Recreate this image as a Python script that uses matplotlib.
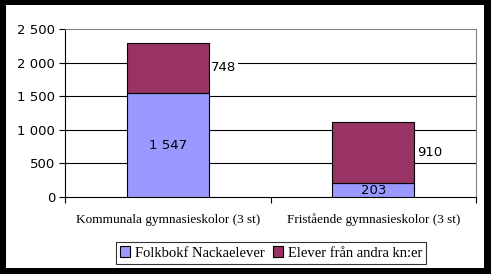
import matplotlib.pyplot as plt
from matplotlib.patches import Rectangle

categories = ["Kommunala gymnasieskolor (3 st)", "Fristående gymnasieskolor (3 st)"]
folkbokf = [1547, 203]
andra = [748, 910]
labels_folk = ["1 547", "203"]
labels_andra = ["748", "910"]
series_names = ["Folkbokf Nackaelever", "Elever från andra kn:er"]

blue = "#9999FF"
maroon = "#993366"

fig = plt.figure(figsize=(4.91, 2.74), dpi=100)
fig.patch.set_facecolor("black")
fig.add_artist(Rectangle((6 / 491, 6 / 274), 478 / 491, 263 / 274,
                         transform=fig.transFigure, facecolor="white",
                         edgecolor="none", zorder=0))

ax = fig.add_axes([65 / 491, 77 / 274, 411 / 491, 168 / 274])
ax.set_facecolor("white")

x = list(range(len(categories)))
width = 0.40
b1 = ax.bar(x, folkbokf, width, color=blue, edgecolor="black", linewidth=0.8,
            label=series_names[0], zorder=3)
b2 = ax.bar(x, andra, width, bottom=folkbokf, color=maroon, edgecolor="black",
            linewidth=0.8, label=series_names[1], zorder=3)

sans = "DejaVu Sans"
for i in x:
    ax.text(i, folkbokf[i] / 2, labels_folk[i], ha="center", va="center",
            fontsize=9.5, family=sans, zorder=4)
    ax.text(i + width / 2 + 0.012, folkbokf[i] + andra[i] / 2, labels_andra[i],
            ha="left", va="center", fontsize=9.5, family=sans, zorder=4,
            bbox=dict(facecolor="white", edgecolor="none", pad=1))

ax.set_xlim(-0.5, 1.5)
ax.set_ylim(0, 2500)
ax.set_yticks([0, 500, 1000, 1500, 2000, 2500])
ax.set_yticklabels(["0", "500", "1 000", "1 500", "2 000", "2 500"],
                   fontsize=9.5, family=sans)
for y in [500, 1000, 1500, 2000]:
    ax.axhline(y, color="black", linewidth=0.8, zorder=1)

ax.set_xticks(x)
ax.set_xticklabels(categories, fontsize=9.5, family="Liberation Serif")
ax.set_xticks([-0.5, 0.5, 1.5], minor=True)
ax.tick_params(axis="x", which="major", length=0, pad=12)
ax.tick_params(axis="x", which="minor", length=4, width=0.8, direction="out")
ax.tick_params(axis="y", length=4, width=0.8, direction="out", pad=3)

ax.spines["left"].set_color("black")
ax.spines["bottom"].set_color("black")
ax.spines["top"].set_color("#808080")
ax.spines["right"].set_color("#808080")
for s in ax.spines.values():
    s.set_linewidth(0.8)

leg = fig.legend(handles=[b1, b2], loc="center", ncol=2,
                 bbox_to_anchor=(271 / 491, 21 / 274),
                 prop={"family": "Liberation Serif", "size": 10.5},
                 frameon=True, fancybox=False, edgecolor="black",
                 handlelength=0.7, handleheight=0.7, handletextpad=0.3,
                 columnspacing=0.6, borderpad=0.3, borderaxespad=0)
leg.get_frame().set_linewidth(0.8)
for h in leg.legend_handles:
    h.set_edgecolor("black")

fig.savefig("out.png", dpi=100, facecolor=fig.get_facecolor())
